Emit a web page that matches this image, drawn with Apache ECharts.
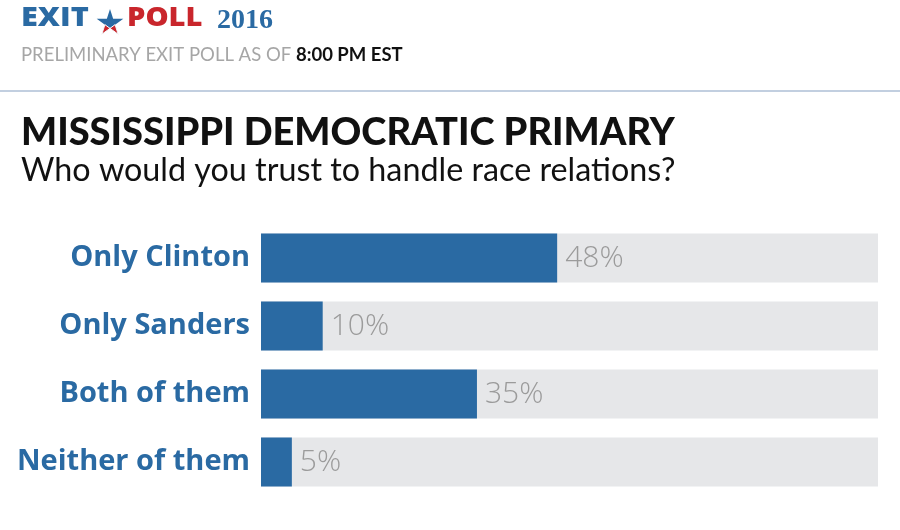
<!DOCTYPE html>
<html><head><meta charset="utf-8">
<script src="https://cdn.jsdelivr.net/npm/echarts@6/dist/echarts.min.js"></script>
<style>html,body{margin:0;padding:0;background:#fff}#c{width:900px;height:530px}</style>
</head><body><div id="c"></div>
<script>
const categories = ["Only Clinton", "Only Sanders", "Both of them", "Neither of them"];
const values = [48, 10, 35, 5];
const axisMax = 100;

const BLUE = '#2a6aa3';
const RED = '#c9262c';

function starPts(cx, cy, R, idx) {
  const r = R * 0.382, pts = [];
  for (let i = 0; i < 10; i++) {
    const a = (-90 + i * 36) * Math.PI / 180;
    const rr = i % 2 === 0 ? R : r;
    pts.push([cx + rr * Math.cos(a), cy + rr * Math.sin(a)]);
  }
  return idx ? idx.map(i => pts[i]) : pts;
}
const SX = 110, SY = 23, SR = 14;

const chart = echarts.init(document.getElementById('c'), null, {renderer: 'canvas'});
chart.setOption({
  animation: false,
  backgroundColor: '#fff',
  grid: {left: 261, right: 22, top: 224, bottom: 34, containLabel: false},
  xAxis: {type: 'value', min: 0, max: axisMax, show: false},
  yAxis: {
    type: 'category', data: categories, inverse: true,
    axisLine: {show: false}, axisTick: {show: false},
    axisLabel: {margin: 11, color: BLUE, fontFamily: 'Open Sans', fontWeight: 'bold', fontSize: 29}
  },
  series: [{
    type: 'bar', data: values, barWidth: 49,
    itemStyle: {color: BLUE},
    showBackground: true,
    backgroundStyle: {color: '#e6e7e9'},
    label: {show: true, position: 'right', distance: 8, formatter: '{c}%', color: '#9b9b9b', fontFamily: 'Open Sans', fontWeight: 300, fontSize: 30}
  }],
  graphic: [
    {type: 'text', x: 21, y: 6, scaleX: 1.18, style: {text: 'EXIT', fontFamily: 'Open Sans', fontWeight: 800, fontSize: 26, fill: BLUE}},
    {type: 'polygon', shape: {points: starPts(SX, SY, SR)}, style: {fill: BLUE}},
    {type: 'polygon', shape: {points: starPts(SX, SY, SR, [3, 4, 5])}, style: {fill: RED, stroke: '#fff', lineWidth: 1}},
    {type: 'polygon', shape: {points: starPts(SX, SY, SR, [5, 6, 7])}, style: {fill: RED, stroke: '#fff', lineWidth: 1}},
    {type: 'text', x: 127, y: 6, scaleX: 1.12, style: {text: 'POLL', fontFamily: 'Open Sans', fontWeight: 800, fontSize: 26, fill: RED}},
    {type: 'text', x: 217, y: 7, style: {text: '2016', fontFamily: 'Liberation Serif', fontWeight: 'bold', fontSize: 28, fill: BLUE}},
    {type: 'text', left: 21, top: 46, style: {
      text: '{g|PRELIMINARY EXIT POLL AS OF }{k|8:00 PM EST}',
      rich: {
        g: {fontFamily: 'Lato', fontSize: 18.5, fill: '#a6a6a6'},
        k: {fontFamily: 'Lato', fontWeight: 'bold', fontSize: 18.5, fill: '#111'}
      }
    }},
    {type: 'rect', shape: {x: 0, y: 90, width: 900, height: 2}, style: {fill: '#c2cfe0'}},
    {type: 'text', left: 21, top: 114, style: {
      text: 'MISSISSIPPI DEMOCRATIC PRIMARY', fontFamily: 'Lato', fontWeight: 900, fontSize: 38, fill: '#111'
    }},
    {type: 'text', left: 21, top: 155, style: {
      text: 'Who would you trust to handle race relations?', fontFamily: 'Lato', fontWeight: 400, fontSize: 32.3, fill: '#111'
    }}
  ]
});
</script></body></html>
